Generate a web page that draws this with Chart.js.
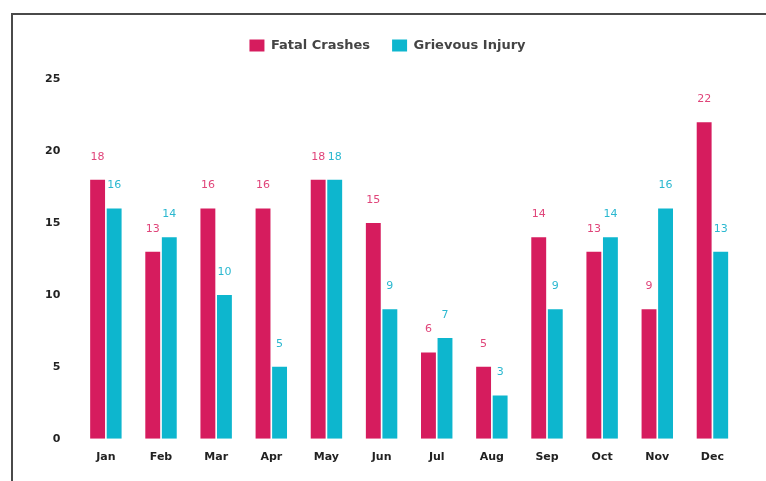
<!DOCTYPE html>
<html>
<head>
<meta charset="utf-8">
<script src="https://cdn.jsdelivr.net/npm/chart.js@4"></script>
<style>
  html, body { margin: 0; padding: 0; background: #fff; }
  #wrap { position: relative; width: 766px; height: 481px; overflow: hidden; }
  #frame { position: absolute; left: 11px; top: 13px; width: 800px; height: 500px;
           border-top: 2px solid #4a4a4a; border-left: 2px solid #4a4a4a; }
  #c { position: absolute; left: 0; top: 0; }
</style>
</head>
<body>
<div id="wrap">
  <div id="frame"></div>
  <canvas id="c" width="766" height="481"></canvas>
</div>
<script>
const months = ['Jan','Feb','Mar','Apr','May','Jun','Jul','Aug','Sep','Oct','Nov','Dec'];
const fatalCrashes = [18, 13, 16, 16, 18, 15, 6, 5, 14, 13, 9, 22];
const grievousInjury = [16, 14, 10, 5, 18, 9, 7, 3, 9, 14, 16, 13];
const yTicks = [0, 5, 10, 15, 20, 25];

const PINK = '#D61C5E';
const CYAN = '#0DB6CE';
const FONT = "'DejaVu Sans', sans-serif";

// Writes each bar's value above it, in the series colour
const valueLabels = {
  id: 'valueLabels',
  afterDatasetsDraw(chart) {
    const ctx = chart.ctx;
    ctx.save();
    ctx.font = '11px ' + FONT;
    ctx.textAlign = 'center';
    ctx.textBaseline = 'middle';
    chart.data.datasets.forEach((ds, i) => {
      const meta = chart.getDatasetMeta(i);
      ctx.fillStyle = ds.labelColor;
      meta.data.forEach((bar, j) => {
        ctx.fillText(String(ds.data[j]), bar.x, bar.y - 23);
      });
    });
    ctx.restore();
  }
};

// Extra room under the legend
const legendGap = {
  id: 'legendGap',
  beforeInit(chart) {
    const fit = chart.legend.fit;
    chart.legend.fit = function () {
      fit.call(this);
      this.height += 17;
    };
  }
};

new Chart(document.getElementById('c'), {
  type: 'bar',
  data: {
    labels: months,
    datasets: [
      { label: 'Fatal Crashes', data: fatalCrashes, backgroundColor: PINK, labelColor: '#E0457A' },
      { label: 'Grievous Injury', data: grievousInjury, backgroundColor: CYAN, labelColor: '#2BB8D0' }
    ]
  },
  options: {
    responsive: false,
    animation: false,
    categoryPercentage: 0.6,
    barPercentage: 0.9,
    layout: { padding: { top: 17, left: 35, right: 26, bottom: 13 } },
    plugins: {
      legend: {
        position: 'top',
        labels: {
          boxWidth: 15, boxHeight: 12, padding: 22,
          color: '#444',
          font: { family: FONT, size: 13, weight: 'bold' }
        }
      },
      tooltip: { enabled: false }
    },
    scales: {
      x: {
        grid: { display: false },
        border: { display: false },
        ticks: { color: '#222', padding: 4, font: { family: FONT, size: 11, weight: 'bold' } }
      },
      y: {
        min: 0, max: 25,
        afterBuildTicks(scale) { scale.ticks = yTicks.map(v => ({ value: v })); },
        grid: { display: false },
        border: { display: false },
        ticks: { color: '#222', padding: 10, font: { family: FONT, size: 11, weight: 'bold' } }
      }
    }
  },
  plugins: [valueLabels, legendGap]
});
</script>
</body>
</html>
